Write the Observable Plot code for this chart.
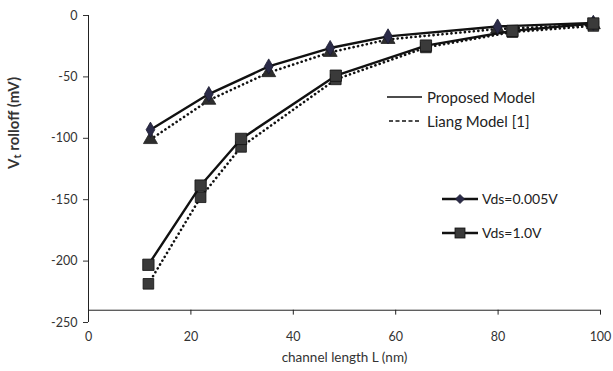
<!DOCTYPE html>
<html><head><meta charset="utf-8">
<script src="https://cdn.jsdelivr.net/npm/d3@7"></script>
<script src="https://cdn.jsdelivr.net/npm/@observablehq/plot@0.6"></script>
<style>
html,body{margin:0;padding:0;background:#fff;}
#wrap{position:relative;width:613px;height:371px;font-family:Lato,"Open Sans",sans-serif;}
.leg{position:absolute;display:flex;align-items:center;color:#222;white-space:nowrap;}
.leg svg{display:block;}
</style></head>
<body><div id="wrap"></div>
<script>
// Channel length L (nm)
const lengthLow = [12.1, 23.5, 35.2, 47.2, 58.5, 79.9, 98.6];
const lengthHigh = [11.7, 21.9, 29.8, 48.3, 65.9, 82.8, 98.6];
// Vt rolloff (mV), Vds = 0.005 V
const proposedLow = [-93, -64, -41.5, -26.5, -17, -9, -6];
const liangLow = [-101, -69, -46.5, -30, -19.5, -11, -7.5];
// Vt rolloff (mV), Vds = 1.0 V
const proposedHigh = [-203, -138.5, -100.5, -49, -24.5, -12.5, -6.5];
const liangHigh = [-218.5, -148, -107, -52, -26, -13.5, -8.5];
const xTicks = [0, 20, 40, 60, 80, 100];
const yTicks = [0, -50, -100, -150, -200, -250];
const xCross = -240;

const mk = (xs, ys) => xs.map((x, i) => ({x, y: ys[i]}));
const pLow = mk(lengthLow, proposedLow), lLow = mk(lengthLow, liangLow);
const pHigh = mk(lengthHigh, proposedHigh), lHigh = mk(lengthHigh, liangHigh);

const dotted = {x: "x", y: "y", stroke: "#111", strokeWidth: 2.6, strokeDasharray: "0.1,4.4", strokeLinecap: "round"};
const solid = {x: "x", y: "y", stroke: "#111", strokeWidth: 2.4};

const chart = Plot.plot({
  width: 613, height: 371,
  marginLeft: 88, marginRight: 13, marginTop: 15, marginBottom: 49,
  style: {fontFamily: "Lato, 'Open Sans', sans-serif", fontSize: "12px", color: "#333", background: "#fff"},
  x: {domain: [0, 100]},
  y: {domain: [-250, 0]},
  marks: [
    Plot.axisY({ticks: yTicks, tickSize: 5, tickPadding: 6, tickFormat: d => d === 0 ? "0" : "-" + Math.abs(d), label: null, fontSize: 12.5}),
    Plot.axisX({ticks: xTicks, tickSize: 0, tickPadding: 10, label: null, fontSize: 12.5}),
    Plot.ruleX([0], {y1: -250, y2: 0, stroke: "#222", strokeWidth: 1}),
    Plot.ruleY([xCross], {x1: 0, x2: 100, stroke: "#222", strokeWidth: 1}),
    Plot.ruleX(xTicks.slice(1), {y1: xCross, y2: xCross - 4, stroke: "#222"}),
    Plot.text(["V\u209C rolloff (mV)"], {frameAnchor: "left", dx: -74, rotate: -90, fontSize: 15, fontWeight: "bold", fill: "#333"}),
    Plot.text(["channel length L (nm)"], {frameAnchor: "bottom", dy: 39, fontSize: 13.5, fill: "#333"}),
    Plot.line(lLow, dotted),
    Plot.line(lHigh, dotted),
    Plot.dot(lLow, {x: "x", y: "y", symbol: "triangle", r: 5.2, fill: "#2e2e2e", stroke: "#222", strokeWidth: 0.8}),
    Plot.dot(lHigh, {x: "x", y: "y", symbol: "square", r: 6, fill: "#3a3a3a", stroke: "#111", strokeWidth: 0.8}),
    Plot.line(pLow, solid),
    Plot.line(pHigh, solid),
    Plot.dot(pLow, {x: "x", y: "y", symbol: "diamond", r: 4.6, fill: "#2b2b48", stroke: "#1c1c30", strokeWidth: 0.8}),
    Plot.dot(pHigh, {x: "x", y: "y", symbol: "square", r: 6.4, fill: "#3a3a3a", stroke: "#111", strokeWidth: 0.8})
  ]
});
const wrap = document.getElementById("wrap");
wrap.appendChild(chart);

const legends = [
  {left: 386, top: 88, size: 15, svg: '<svg width="38" height="10"><line x1="1" y1="5" x2="36" y2="5" stroke="#111" stroke-width="1.6"/></svg>', text: "Proposed Model"},
  {left: 386, top: 112, size: 15, svg: '<svg width="38" height="10"><line x1="3" y1="5" x2="34" y2="5" stroke="#111" stroke-width="1.4" stroke-dasharray="4,2.5"/></svg>', text: "Liang Model [1]"},
  {left: 441, top: 190, size: 14, svg: '<svg width="38" height="14"><line x1="1" y1="7" x2="37" y2="7" stroke="#111" stroke-width="2.4"/><path d="M19,2.5 L23.5,7 L19,11.5 L14.5,7Z" fill="#2b2b48" stroke="#1c1c30" stroke-width="0.8"/></svg>', text: "Vds=0.005V"},
  {left: 441, top: 224, size: 14, svg: '<svg width="38" height="14"><line x1="1" y1="7" x2="37" y2="7" stroke="#111" stroke-width="2.4"/><rect x="14" y="2" width="10" height="10" fill="#3a3a3a" stroke="#111" stroke-width="0.8"/></svg>', text: "Vds=1.0V"}
];
for (const l of legends) {
  const d = document.createElement("div");
  d.className = "leg";
  d.style.left = l.left + "px"; d.style.top = l.top + "px"; d.style.fontSize = l.size + "px";
  d.innerHTML = l.svg + '<span style="margin-left:3px">' + l.text + '</span>';
  wrap.appendChild(d);
}
</script></body></html>
